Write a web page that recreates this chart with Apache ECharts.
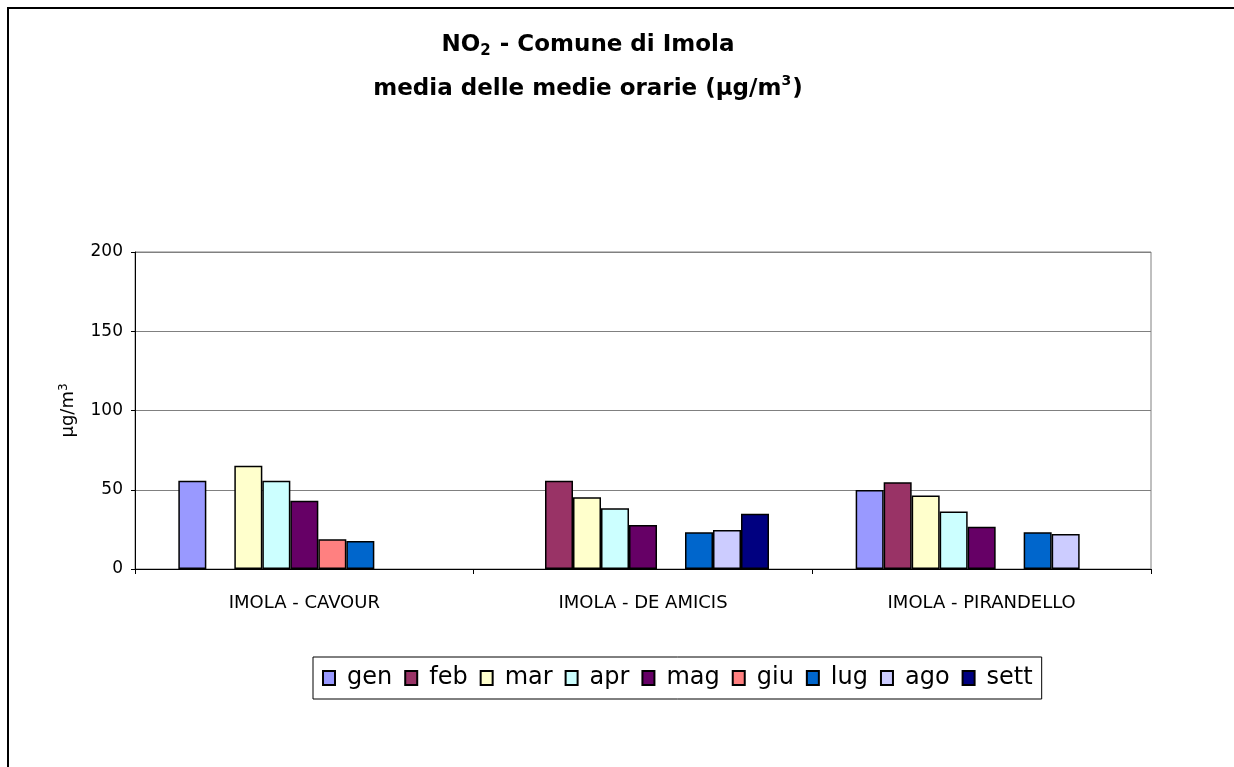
<!DOCTYPE html>
<html>
<head>
<meta charset="utf-8">
<script src="https://cdn.jsdelivr.net/npm/echarts@6/dist/echarts.min.js"></script>
<style>
html,body{margin:0;padding:0;background:#fff;}
#c{width:1234px;height:767px;}
</style>
</head>
<body>
<div id="c"></div>
<script>
var categories = ['IMOLA - CAVOUR', 'IMOLA - DE AMICIS', 'IMOLA - PIRANDELLO'];
var months = ['gen', 'feb', 'mar', 'apr', 'mag', 'giu', 'lug', 'ago', 'sett'];
var gen  = [55.7, null, 49.8];
var feb  = [null, 55.7, 54.7];
var mar  = [65.2, 45.2, 46.3];
var apr  = [55.7, 38.3, 36.2];
var mag  = [43.1, 27.8, 26.7];
var giu  = [18.7, null, null];
var lug  = [17.7, 23.2, 23.2];
var ago  = [null, 24.6, 22.1];
var sett = [null, 34.9, null];
var yTicks = [0, 50, 100, 150, 200];

var seriesData = [gen, feb, mar, apr, mag, giu, lug, ago, sett];
var colors = ['#9999FF', '#993366', '#FFFFCC', '#CCFFFF', '#660066', '#FF8080', '#0066CC', '#CCCCFF', '#000080'];
var FONT = 'DejaVu Sans';

var chart = echarts.init(document.getElementById('c'));
chart.setOption({
  animation: false,
  backgroundColor: '#fff',
  textStyle: {fontFamily: FONT},
  graphic: [{
    type: 'rect', shape: {x: 8, y: 8, width: 1400, height: 900},
    style: {fill: 'none', stroke: '#000', lineWidth: 2}, silent: true, z: 100
  }],
  title: {
    left: 583, top: 18, textAlign: 'center',
    text: '{b|NO}{sub|2}{b| - Comune di Imola}\n{b|media delle medie orarie (µg/m}{sup|3}{b|)}',
    textStyle: {
      lineHeight: 44,
      rich: {
        b: {fontFamily: FONT, fontWeight: 'bold', fontSize: 23, color: '#000', lineHeight: 44},
        sub: {fontFamily: FONT, fontWeight: 'bold', fontSize: 15, color: '#000', lineHeight: 44, padding: [12, 1, 0, 0]},
        sup: {fontFamily: FONT, fontWeight: 'bold', fontSize: 14, color: '#000', lineHeight: 44, padding: [0, 1, 16, 0]}
      }
    }
  },
  legend: {
    left: 313, top: 657,
    data: months,
    icon: 'rect',
    itemWidth: 12, itemHeight: 14,
    itemGap: 12,
    padding: [9, 9],
    borderColor: '#000', borderWidth: 1,
    textStyle: {fontFamily: FONT, fontSize: 24, color: '#000', padding: [0, 0, 0, 7]}
  },
  grid: {
    left: 135, right: 83, top: 252, bottom: 198,
    show: true, borderColor: '#808080', borderWidth: 1
  },
  xAxis: {
    type: 'category', data: categories,
    axisLine: {lineStyle: {color: '#000', width: 1}},
    axisTick: {show: true, length: 5, lineStyle: {color: '#000'}},
    axisLabel: {fontFamily: FONT, fontSize: 18, color: '#000', margin: 25},
    splitLine: {show: false}
  },
  yAxis: {
    type: 'value', min: yTicks[0], max: yTicks[yTicks.length - 1], interval: 50,
    name: '{a|µg/m}{s|3}',
    nameLocation: 'middle', nameGap: 50, nameRotate: 90,
    nameTextStyle: {
      rich: {
        a: {fontFamily: FONT, fontSize: 18, color: '#000', lineHeight: 24},
        s: {fontFamily: FONT, fontSize: 12, color: '#000', lineHeight: 24, padding: [0, 0, 10, 0]}
      }
    },
    axisLine: {show: true, lineStyle: {color: '#000', width: 1}},
    axisTick: {show: true, length: 4, inside: false, lineStyle: {color: '#000'}},
    axisLabel: {fontFamily: FONT, fontSize: 17, color: '#000', margin: 12},
    splitLine: {show: true, lineStyle: {color: '#808080', width: 1}}
  },
  series: months.map(function (m, i) {
    return {
      name: m, type: 'bar', data: seriesData[i],
      barWidth: 28, barGap: '0%',
      itemStyle: {color: colors[i], borderColor: '#000', borderWidth: 1.5}
    };
  })
});
</script>
</body>
</html>
